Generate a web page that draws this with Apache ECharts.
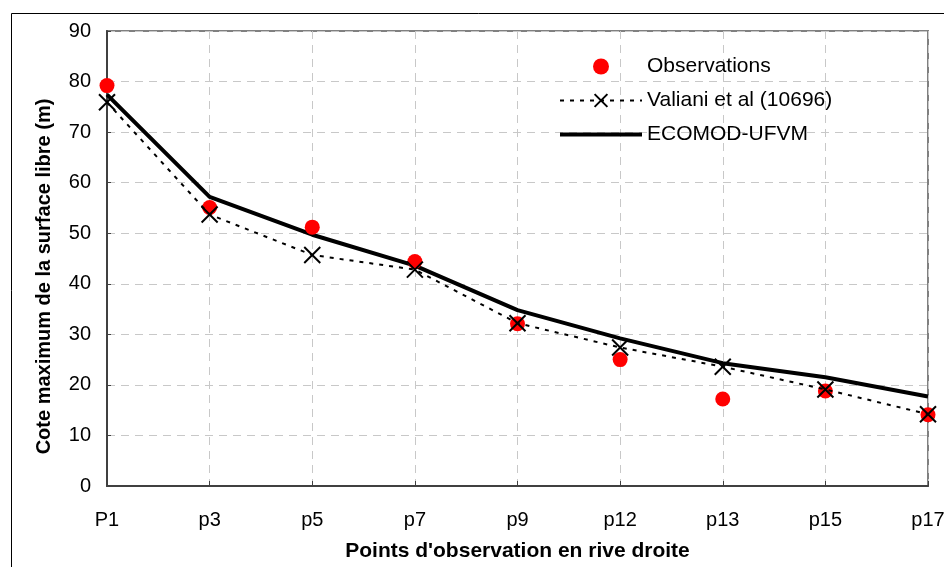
<!DOCTYPE html>
<html><head><meta charset="utf-8">
<script src="https://cdn.jsdelivr.net/npm/echarts@6/dist/echarts.min.js"></script>
<style>html,body{margin:0;padding:0;background:#fff}#c{width:944px;height:567px}</style>
</head><body><div id="c"></div>
<script>
const categories = ['P1','p3','p5','p7','p9','p12','p13','p15','p17'];
const observations = [79.2, 55.1, 51.2, 44.4, 32.1, 25.0, 17.2, 18.8, 14.1];
const valiani = [75.9, 53.7, 45.7, 42.8, 32.2, 27.4, 23.6, 19.1, 14.2];
const ecomod = [77.4, 57.2, 49.7, 43.6, 34.8, 29.2, 24.3, 21.5, 17.7];
const yTicks = [0,10,20,30,40,50,60,70,80,90];

const font = 'Liberation Sans, Arial, sans-serif';
const chart = echarts.init(document.getElementById('c'), null, {renderer:'canvas'});
chart.setOption({
  animation:false,
  backgroundColor:'#fff',
  graphic:[{type:'rect', shape:{x:11.5,y:13.5,width:940,height:560}, style:{fill:'none',stroke:'#000',lineWidth:1}, silent:true}],
  grid:{left:107,right:16,top:31,bottom:81,show:true,borderColor:'#808080',borderWidth:2,backgroundColor:'transparent',
    containLabel:false, outerBoundsMode:'none'},
  legend:{
    orient:'vertical', left:553, top:51, itemWidth:82, itemHeight:16, itemGap:13,
    textStyle:{fontFamily:font,fontSize:21,color:'#000'},
    data:[
      {name:'Observations'},
      {name:'Valiani et al (10696)'},
      {name:'ECOMOD-UFVM', itemStyle:{opacity:0}, lineStyle:{width:4, color:'#000'}}
    ]
  },
  xAxis:{
    type:'category', data:categories, boundaryGap:false,
    name:"Points d'observation en rive droite", nameLocation:'middle', nameGap:55,
    nameTextStyle:{fontFamily:font,fontSize:21,fontWeight:'bold',color:'#000'},
    axisLine:{lineStyle:{color:'#404040',width:2}},
    axisTick:{inside:true,length:5,lineStyle:{color:'#404040'}},
    axisLabel:{fontFamily:font,fontSize:20,color:'#000',margin:24,hideOverlap:false},
    splitLine:{show:true,lineStyle:{color:'#c8c8c8',type:[8,6],width:1}}
  },
  yAxis:{
    type:'value', min:0, max:90, interval:10,
    name:'Cote maximum de la surface libre (m)', nameLocation:'middle', nameGap:53,
    nameTextStyle:{fontFamily:font,fontSize:20,fontWeight:'bold',color:'#000',padding:[0,36,0,0]},
    axisLine:{show:true,lineStyle:{color:'#404040',width:2}},
    axisTick:{show:true,inside:true,length:4,lineStyle:{color:'#404040'}},
    axisLabel:{fontFamily:font,fontSize:20,color:'#000',margin:16,
      formatter:v=>yTicks.includes(v)?String(v):''},
    splitLine:{show:true,lineStyle:{color:'#c8c8c8',type:[8,6],width:1}}
  },
  series:[
    {name:'Observations',type:'scatter',data:observations,symbol:'circle',symbolSize:15,
      itemStyle:{color:'#ff0000',opacity:1},z:3},
    {name:'Valiani et al (10696)',type:'line',data:valiani,
      symbol:'path://M0,0L10,10M10,0L0,10',symbolSize:16,showSymbol:true,
      itemStyle:{color:'#000',borderColor:'#000',borderWidth:2},
      lineStyle:{color:'#000',width:2,type:[4,6]},z:4},
    {name:'ECOMOD-UFVM',type:'line',data:ecomod,symbol:'none',
      itemStyle:{color:'#000'},
      lineStyle:{color:'#000',width:4},z:2}
  ]
});
</script></body></html>
